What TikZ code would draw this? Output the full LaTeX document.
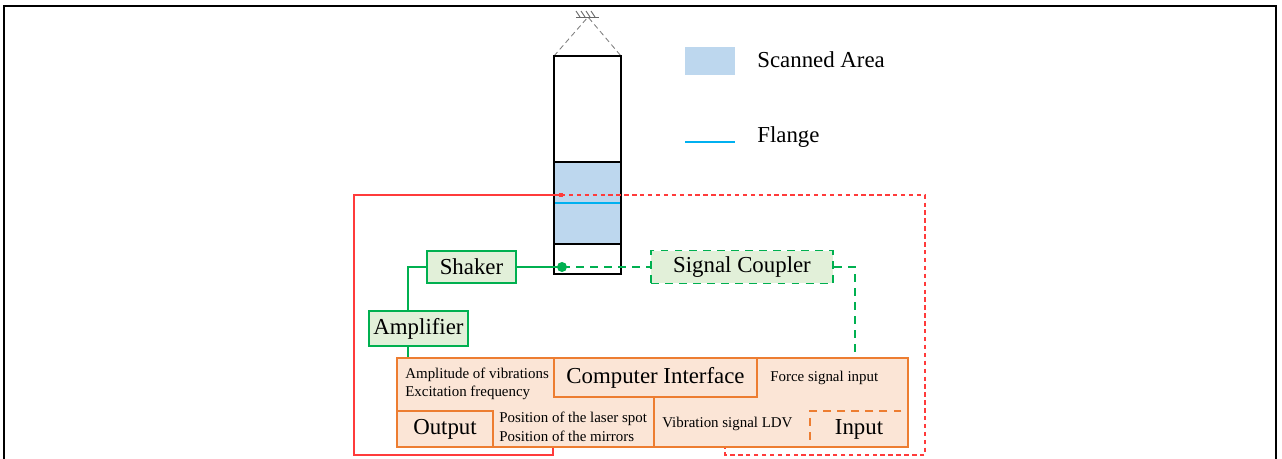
\documentclass[tikz,border=0pt]{standalone}
\usepackage{fontspec}
\setmainfont{Liberation Serif}
\usepackage{xcolor}
\definecolor{rigGreen}{HTML}{00B050}
\definecolor{rigGreenFill}{HTML}{E2F0D9}
\definecolor{rigOrange}{HTML}{ED7D31}
\definecolor{rigOrangeFill}{HTML}{FBE5D6}
\definecolor{rigRed}{HTML}{FF3B3B}
\definecolor{rigBlue}{HTML}{BDD7EE}
\definecolor{rigCyan}{HTML}{00B0F0}
\usetikzlibrary{positioning,calc}

\begin{document}
\begin{tikzpicture}[x=0.02cm, y=-0.02cm,
    bigtxt/.style={font=\fontsize{13}{15}\selectfont},
    smalltxt/.style={font=\fontsize{8.5}{10.5}\selectfont, align=left, inner sep=0pt},
    greenbox/.style={draw=rigGreen, fill=rigGreenFill, line width=1.1pt, inner sep=0pt, bigtxt},
    orangebox/.style={draw=rigOrange, fill=rigOrangeFill, line width=1.1pt, inner sep=0pt, bigtxt},
    greenline/.style={draw=rigGreen, line width=1.1pt},
    greendash/.style={dash pattern=on 4.5pt off 3.5pt},
    redline/.style={draw=rigRed, line width=0.8pt},
    reddash/.style={dash pattern=on 2.5pt off 2pt},
  ]

    % Frame
    \useasboundingbox (0,0) rectangle (1282,459);
    \draw[line width=1.4pt] (4,459) -- (4,6) -- (341,6);
    \draw[line width=0.6pt] (341,6) -- (946,6);
    \draw[line width=1.4pt] (946,6) -- (1276,6) -- (1276,459);

    % Suspension
    \draw[gray, densely dashed, line width=0.5pt] (554,56) -- (588,17) -- (621,56);
    \draw[gray!80!black, line width=0.5pt] (576,17) -- (599,17);
    \foreach \x in {580, 585, 590, 595} {
        \draw[gray!80!black, line width=0.5pt] (\x,17) -- (\x-4,11);
    }

    % Beam with scanned area and flange
    \fill[rigBlue] (554,162) rectangle (621,244);
    \draw[rigCyan, line width=1.1pt] (554,203) -- (621,203);
    \draw[line width=1.1pt] (554,56) rectangle (621,274);
    \draw[line width=1.1pt] (554,162) -- (621,162);
    \draw[line width=1.1pt] (554,244) -- (621,244);
    \coordinate (laser) at (561,195);
    \coordinate (exc) at (562,267);

    % Legend
    \fill[rigBlue] (685,47) rectangle (735,75);
    \node[bigtxt, anchor=west, inner sep=0pt] (scanlbl) at (757,60) {Scanned Area};
    \draw[rigCyan, line width=1.1pt] (685,142) -- (735,142);
    \node[bigtxt, anchor=west, inner sep=0pt] (flangelbl) at (757,137) {Flange};

    % Data acquisition block
    \node[orangebox, minimum width=10.22cm, minimum height=1.78cm] (daq) at (652.5,402.5) {};
    \node[orangebox, minimum width=4.06cm, minimum height=0.78cm] (ci) at (655.5,377.5) {Computer Interface};
    \node[orangebox, minimum width=1.92cm, minimum height=0.72cm] (output) at (445,429) {Output};
    \node[draw=rigOrange, greendash, line width=1.1pt, inner sep=0pt, bigtxt,
          minimum width=1.96cm, minimum height=0.72cm] (input) at (859,429) {Input};
    \draw[rigOrange, line width=1.1pt] (ci.south -| 654,0) -- (daq.south -| 654,0);

    \node[smalltxt, anchor=west] (outtxt) at (405,384) {Amplitude of vibrations\\Excitation frequency};
    \node[smalltxt, anchor=west] (forcetxt) at (770,378) {Force signal input};
    \node[smalltxt, anchor=west] (postxt) at (499,427) {Position of the laser spot\\Position of the mirrors};
    \node[smalltxt, anchor=west] (ldvtxt) at (662,424) {Vibration signal LDV};

    % Excitation chain
    \node[greenbox, minimum width=1.78cm, minimum height=0.64cm] (shaker) at (471.5,267) {Shaker};
    \node[greenbox, greendash, minimum width=3.64cm, minimum height=0.66cm] (coupler) at (742,267) {Signal Coupler};
    \node[greenbox, minimum width=1.98cm, minimum height=0.70cm] (amp) at (418.5,328.5) {Amplifier};

    \coordinate (ampin) at (408,311);
    \coordinate (fsig) at (855,358);
    \draw[greenline] (shaker.east) -- (exc);
    \draw[greenline, greendash] (exc) -- (coupler.west);
    \draw[greenline, greendash] (coupler.east) -| (fsig);
    \draw[greenline] (shaker.west) -| (ampin);
    \draw[greenline] (amp.south -| ampin) -- (daq.north -| ampin);
    \fill[rigGreen] (exc) circle (5);

    % Laser paths
    \coordinate (redleft) at (354,455);
    \coordinate (redright) at (925,455);
    \draw[redline] (laser) -| (redleft) -| (daq.south -| ci.west);
    \draw[redline, reddash] (laser) -| (redright) -| (daq.south -| 725,0);
    \fill[rigRed] ($(laser)+(-2,-2)$) rectangle ($(laser)+(2,2)$);

\end{tikzpicture}
\end{document}
